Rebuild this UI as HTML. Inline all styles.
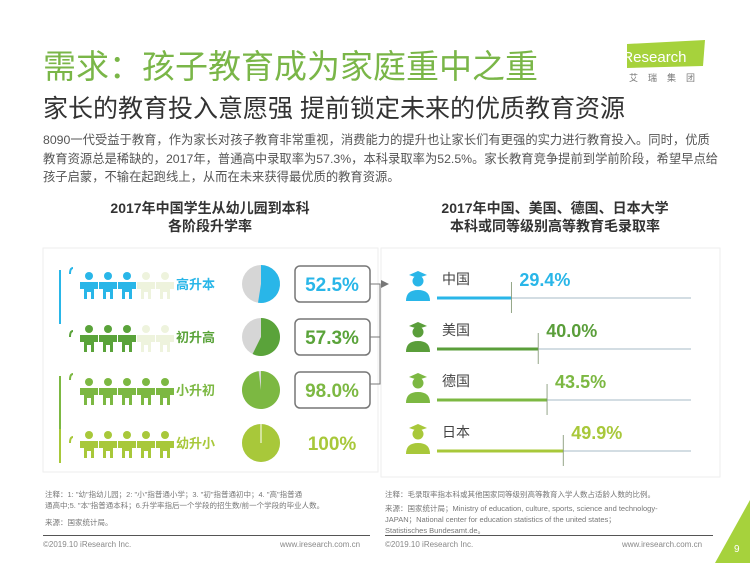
<!DOCTYPE html>
<html><head><meta charset="utf-8"><style>
body{margin:0;width:750px;height:563px;background:#fff;overflow:hidden;position:relative;font-family:"Liberation Sans","Noto Sans CJK SC",sans-serif;}
.a{position:absolute;white-space:nowrap;}
</style></head><body>
<div class="a" style="left:43px;top:40px;font-size:33px;color:#7ab648;">需求：孩子教育成为家庭重中之重</div>
<div class="a" style="left:615px;top:40px;width:90px;height:44px;">
<svg width="90" height="44"><polygon points="12,4 90,0 88,26 12,28" fill="#a6d23c"/><text x="4" y="22" font-size="15" fill="#fff" font-family="Liberation Sans">iResearch</text><text x="14" y="41" font-size="9" fill="#777" letter-spacing="10" font-family="Noto Sans CJK SC">艾瑞集团</text></svg></div>
<div class="a" style="left:43px;top:89px;font-size:25px;color:#333">家长的教育投入意愿强 提前锁定未来的优质教育资源</div>
<div class="a" style="left:43px;top:131px;width:676px;white-space:normal;font-size:12.3px;line-height:18.5px;color:#555">8090一代受益于教育，作为家长对孩子教育非常重视，消费能力的提升也让家长们有更强的实力进行教育投入。同时，优质教育资源总是稀缺的，2017年，普通高中录取率为57.3%，本科录取率为52.5%。家长教育竞争提前到学前阶段，希望早点给孩子启蒙，不输在起跑线上，从而在未来获得最优质的教育资源。</div>
<div class="a" style="left:60px;top:199px;width:300px;text-align:center;font-size:14px;font-weight:bold;color:#333;line-height:18px">2017年中国学生从幼儿园到本科<br>各阶段升学率</div>
<div class="a" style="left:400px;top:199px;width:310px;text-align:center;font-size:14px;font-weight:bold;color:#333;line-height:18px">2017年中国、美国、德国、日本大学<br>本科或同等级别高等教育毛录取率</div>
<svg class="a" style="left:0;top:0" width="750" height="563" id="chart">
<rect x="43" y="248" width="335" height="224" fill="#fff" stroke="#eee"/>
<rect x="381" y="248" width="339" height="229" fill="#fff" stroke="#eee"/>
<polyline points="370,284 380,284 380,384 370,384" fill="none" stroke="#777"/>
<polyline points="370,337 380,337" stroke="#777"/>
<polygon points="381,280 389,284 381,288" fill="#777"/>
</svg>
<div class="a" style="left:45px;top:489px;font-size:7.5px;color:#777;line-height:11px">注释：1: "幼"指幼儿园；2: "小"指普通小学；3. "初"指普通初中；4. "高"指普通<br>通高中;5. "本"指普通本科；6.升学率指后一个学段的招生数/前一个学段的毕业人数。<br><span style="display:inline-block;margin-top:6px">来源：国家统计局。</span></div>
<div class="a" style="left:385px;top:489px;font-size:7.5px;color:#777;line-height:11px">注释：毛录取率指本科或其他国家同等级别高等教育入学人数占适龄人数的比例。<br><span style="display:inline-block;margin-top:3px">来源：国家统计局；Ministry of education, culture, sports, science and technology-</span><br>JAPAN；National center for education statistics of the united states；<br>Statistisches Bundesamt.de。</div>
<div class="a" style="left:43px;top:535px;width:327px;border-top:1px solid #555"></div>
<div class="a" style="left:385px;top:535px;width:328px;border-top:1px solid #555"></div>
<div class="a" style="left:43px;top:540px;font-size:8px;color:#888">©2019.10 iResearch Inc.</div>
<div class="a" style="left:280px;top:540px;font-size:8px;color:#888">www.iresearch.com.cn</div>
<div class="a" style="left:385px;top:540px;font-size:8px;color:#888">©2019.10 iResearch Inc.</div>
<div class="a" style="left:622px;top:540px;font-size:8px;color:#888">www.iresearch.com.cn</div>
<svg class="a" style="left:715px;top:500px" width="35" height="63"><polygon points="35,0 35,63 0,63" fill="#a6d23c"/><text x="19" y="52" font-size="10" fill="#fff">9</text></svg>
<script>
const stages=["高升本","初升高","小升初","幼升小"];
const stageRates=[52.5,57.3,98.0,100];
const stageLabels=["52.5%","57.3%","98.0%","100%"];
const stageColors=["#29b6e8","#5aa33a","#7cb842","#a8c83a"];
const countries=["中国","美国","德国","日本"];
const countryRates=[29.4,40.0,43.5,49.9];
const countryLabels=["29.4%","40.0%","43.5%","49.9%"];
const countryColors=["#29b6e8","#5a9e3a","#7cb842","#a8c83a"];
const NS="http://www.w3.org/2000/svg";
const svg=document.getElementById('chart');
function mk(t,at,p){const e=document.createElementNS(NS,t);for(const k in at)e.setAttribute(k,at[k]);(p||svg).appendChild(e);return e;}
const rowY=i=>284+i*53;
function person(x,y,c,g){
 mk('circle',{cx:x,cy:y-12,r:4,fill:c},g);
 mk('path',{d:`M${x-9},${y-6} h18 v7 h-4 v10 h-3 v-7 h-4 v7 h-3 v-10 h-4 z`,fill:c},g);
}
stages.forEach((s,i)=>{
 const y=rowY(i),c=stageColors[i];
 const g=mk('g',{});
 
 
 mk('path',{d:`M70,${y+(i%2?0:-10)} q0,-6 3,-6`,stroke:c,fill:'none','stroke-width':2},g);
 if(i%2===0||i===3) mk('line',{x1:60,y1:y-14,x2:60,y2:y+(i==3?20:40),stroke:c,'stroke-width':2},g);
 const filled=Math.round(stageRates[i]/20);
 for(let k=0;k<5;k++) person(89+k*19,y+4,k<filled?c:'#eef3dd',g);
 const t=mk('text',{x:176,y:y+5,'font-size':13,'font-weight':'bold',fill:c},g);t.textContent=s;
 const cx=261,cy=y,r=19;
 mk('circle',{cx,cy,r,fill:'#d6d6d6'},g);
 const a=stageRates[i]/100*2*Math.PI;
 if(stageRates[i]>=100){mk('circle',{cx,cy,r,fill:c},g);mk('line',{x1:cx,y1:cy-r,x2:cx,y2:cy,stroke:'#fff','stroke-width':1},g);}
 else{const ex=cx+r*Math.sin(a),ey=cy-r*Math.cos(a);
  const slice=mk('path',{d:`M${cx},${cy} L${cx},${cy-r} A${r},${r} 0 ${a>Math.PI?1:0} 1 ${ex},${ey} Z`,fill:c},g);
  
  }
 if(i<3) mk('rect',{x:295,y:y-18,width:75,height:36,rx:5,fill:'#fff',stroke:'#777','stroke-width':1.5},g);
 const v=mk('text',{x:332,y:y+7,'font-size':19,'font-weight':'bold',fill:c,'text-anchor':'middle'},g);v.textContent=stageLabels[i];
});
const x0=437,xs=v=>x0+v*2.53;
countries.forEach((n,i)=>{
 const y=298+i*51,c=countryColors[i];
 const g=mk('g',{});
 
 
 mk('circle',{cx:418,cy:y-17,r:5.5,fill:c},g);
 mk('polygon',{points:`${409},${y-23} ${418},${y-27} ${427},${y-23} ${418},${y-20}`,fill:c},g);
 mk('path',{d:`M406,${y+3} q0,-11 12,-11 q12,0 12,11 z`,fill:c},g);
 const t=mk('text',{x:442,y:y-14,'font-size':14,fill:'#444'},g);t.textContent=n;
 mk('line',{x1:x0,y1:y,x2:691,y2:y,stroke:'#8aa5b5','stroke-width':0.8},g);
 const b=mk('line',{x1:x0,y1:y,x2:xs(countryRates[i]),y2:y,stroke:c,'stroke-width':3},g);
 
 
 mk('line',{x1:xs(countryRates[i]),y1:y-16,x2:xs(countryRates[i]),y2:y+15,stroke:'#7a8f6a','stroke-width':0.8},g);
 const v=mk('text',{x:xs(countryRates[i])+8,y:y-12,'font-size':18,'font-weight':'bold',fill:c},g);v.textContent=countryLabels[i];
});
</script>
</body></html>
